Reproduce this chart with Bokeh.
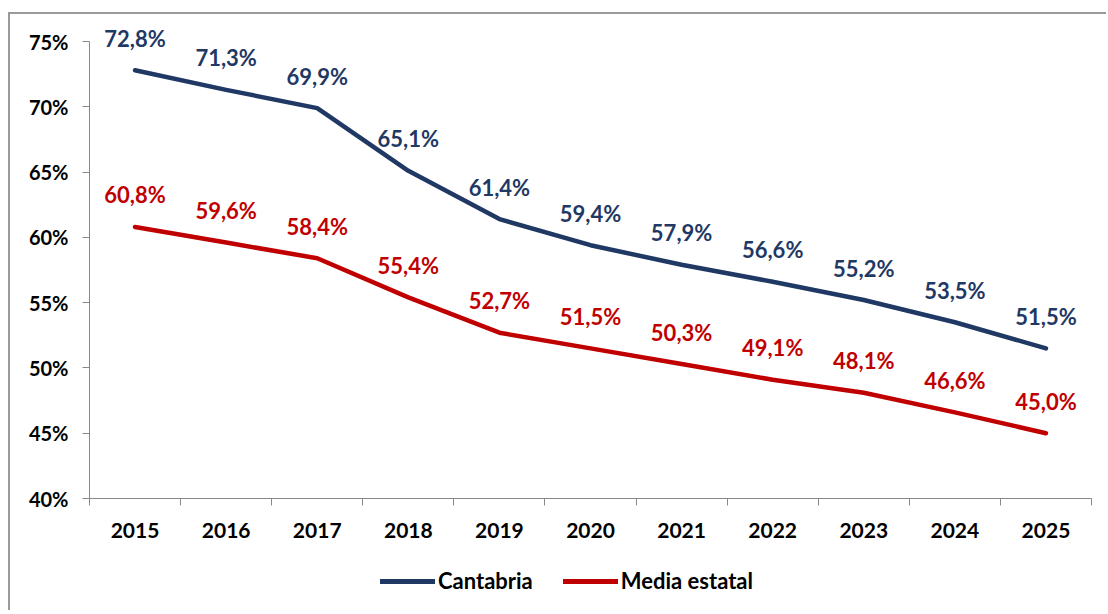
from bokeh.plotting import figure
from bokeh.layouts import column
from bokeh.models import (ColumnDataSource, LabelSet, Legend, LegendItem, Range1d,
                          FixedTicker, PrintfTickFormatter)
from bokeh.core.properties import value
from bokeh.embed import file_html
from bokeh.resources import INLINE

years = [2015, 2016, 2017, 2018, 2019, 2020, 2021, 2022, 2023, 2024, 2025]
cantabria = [72.8, 71.3, 69.9, 65.1, 61.4, 59.4, 57.9, 56.6, 55.2, 53.5, 51.5]
media_estatal = [60.8, 59.6, 58.4, 55.4, 52.7, 51.5, 50.3, 49.1, 48.1, 46.6, 45.0]
y_ticks = [40, 45, 50, 55, 60, 65, 70, 75]
series_names = ["Cantabria", "Media estatal"]

FONT = "Lato"
NAVY = "#1F3864"
RED = "#C00000"
AXIS = "#888888"


def fmt(v):
    return f"{v:.1f}%".replace(".", ",")


src_c = ColumnDataSource(dict(x=years, y=cantabria, lab=[fmt(v) for v in cantabria]))
src_m = ColumnDataSource(dict(x=years, y=media_estatal, lab=[fmt(v) for v in media_estatal]))

p = figure(width=1096, height=536, output_backend="svg", toolbar_location=None,
           x_range=Range1d(years[0] - 0.5, years[-1] + 0.5),
           y_range=Range1d(y_ticks[0], 76.61),
           min_border_left=79, min_border_right=15, min_border_top=6,
           min_border_bottom=52)
p.outline_line_color = None
p.xgrid.visible = False
p.ygrid.visible = False

p.line("x", "y", source=src_c, line_color=NAVY, line_width=4.5, line_cap="round", line_join="round")
p.line("x", "y", source=src_m, line_color=RED, line_width=4.5, line_cap="round", line_join="round")

for src, col in ((src_c, NAVY), (src_m, RED)):
    p.add_layout(LabelSet(x="x", y="y", text="lab", source=src, y_offset=32,
                          text_align="center", text_baseline="middle",
                          text_color=col, text_font=value(FONT), text_font_style="bold",
                          text_font_size="22px"))

# y axis
p.yaxis.ticker = FixedTicker(ticks=y_ticks)
p.yaxis.bounds = (y_ticks[0], y_ticks[-1])
p.yaxis.formatter = PrintfTickFormatter(format="%d%%")
p.yaxis.axis_line_color = AXIS
p.yaxis.major_tick_line_color = AXIS
p.yaxis.major_tick_out = 7
p.yaxis.major_tick_in = 0
p.yaxis.minor_tick_line_color = None
p.yaxis.major_label_standoff = 14
p.yaxis.major_label_text_font = FONT
p.yaxis.major_label_text_font_style = "bold"
p.yaxis.major_label_text_font_size = "20px"
p.yaxis.major_label_text_color = "black"

# x axis: labels at years, ticks between categories
bounds = [y - 0.5 for y in years] + [years[-1] + 0.5]
p.xaxis.ticker = FixedTicker(ticks=years, minor_ticks=bounds)
p.xaxis.major_label_overrides = {y: str(y) for y in years}
p.xaxis.axis_line_color = AXIS
p.xaxis.major_tick_line_color = None
p.xaxis.major_tick_out = 0
p.xaxis.major_tick_in = 0
p.xaxis.minor_tick_line_color = AXIS
p.xaxis.minor_tick_out = 7
p.xaxis.minor_tick_in = 0
p.xaxis.major_label_standoff = 17
p.xaxis.major_label_text_font = FONT
p.xaxis.major_label_text_font_style = "bold"
p.xaxis.major_label_text_font_size = "21px"
p.xaxis.major_label_text_color = "black"

# legend strip (series drawn off-range so only the legend shows)
pl = figure(width=1096, height=60, output_backend="svg", toolbar_location=None,
            x_range=Range1d(0, 1), y_range=Range1d(0, 1),
            x_axis_location=None, y_axis_location=None,
            min_border_left=0, min_border_right=0, min_border_top=0, min_border_bottom=0)
pl.outline_line_color = None
pl.xgrid.visible = False
pl.ygrid.visible = False
lr1 = pl.line("x", "y", source=src_c, line_color=NAVY, line_width=5, line_cap="round")
lr2 = pl.line("x", "y", source=src_m, line_color=RED, line_width=5, line_cap="round")
legend = Legend(items=[LegendItem(label=series_names[0], renderers=[lr1]),
                       LegendItem(label=series_names[1], renderers=[lr2])],
                orientation="horizontal", location=(291, 16), padding=5,
                glyph_width=55, label_standoff=3, spacing=30,
                label_text_font=FONT, label_text_font_style="bold",
                label_text_font_size="22px", label_text_color="black",
                border_line_color=None, background_fill_alpha=0, margin=0)
pl.add_layout(legend, "center")

layout = column(p, pl, spacing=0)
layout.margin = (12, 0, 0, 8)
layout.styles = {"border-top": "2px solid #9a9a9a", "border-left": "2px solid #9a9a9a"}

open("out.html", "w").write(file_html(layout, INLINE))
